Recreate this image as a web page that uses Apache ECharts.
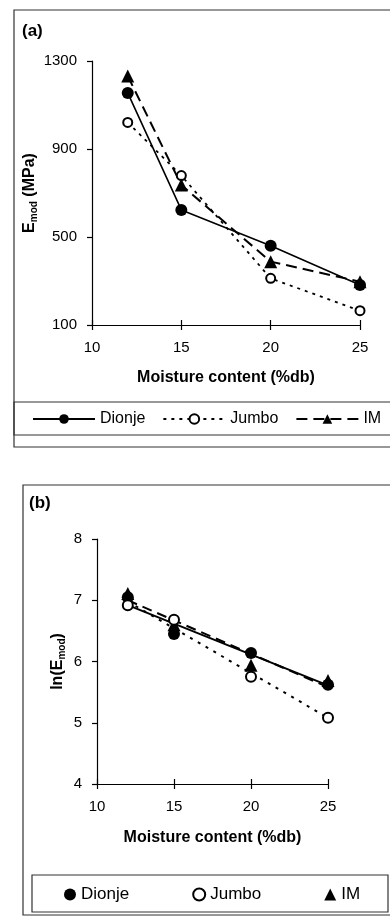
<!DOCTYPE html>
<html lang="en">
<head>
  <meta charset="UTF-8" />
  <title>Emod vs moisture content</title>
  <script src="https://cdn.jsdelivr.net/npm/echarts@6/dist/echarts.min.js"></script>
  <style>
    body,
    html {
      margin: 0;
      padding: 0;
      width: 100%;
      height: 100%;
      overflow: hidden;
      background: #fff;
    }

    #chartA {
      position: absolute;
      left: 0;
      top: 0;
      width: 390px;
      height: 458px;
    }

    #chartB {
      position: absolute;
      left: 0;
      top: 458px;
      width: 390px;
      height: 459px;
    }
  </style>
</head>

<body>
  <div id="chartA"></div>
  <div id="chartB"></div>
  <script>
    // moisture content (%db)
    var moisture = [12, 15, 20, 25];
    // panel (a): E_mod (MPa)
    var dionje = [1155, 623, 460, 282];
    var jumbo = [1021, 779, 312, 165];
    var im = [1232, 736, 388, 297];
    // panel (b): ln(E_mod)
    var lnDionje = [7.05, 6.45, 6.14, 5.62];
    var lnJumbo = [6.92, 6.68, 5.75, 5.08];
    var lnIm = [7.11, 6.60, 5.94, 5.69];
    // fitted lines in (b), end points
    var fitX = [12, 25];
    var fitDionje = [6.92, 5.61];
    var fitJumbo = [6.98, 5.08];
    var fitIm = [7.00, 5.58];
    var names = ['Dionje', 'Jumbo', 'IM'];
    var yTicksA = [100, 500, 900, 1300];

    var FONT = '"Liberation Sans", Arial, sans-serif';
    var black = '#000';

    function pairs(xs, ys) {
      return xs.map(function (x, i) {
        return [x, ys[i]];
      });
    }

    function plain(v) {
      return String(v);
    }

    function xAxes(gap) {
      return [{
        type: 'value',
        min: 10,
        max: 25,
        interval: 5,
        name: 'Moisture content (%db)',
        nameLocation: 'middle',
        nameGap: gap,
        nameTextStyle: { fontSize: 16, fontWeight: 'bold', color: black },
        axisLine: { lineStyle: { color: black, width: 1.2 } },
        axisTick: { show: true, length: 5, lineStyle: { color: black, width: 1.2 } },
        axisLabel: { fontSize: 15, color: black, margin: 15 },
        splitLine: { show: false }
      }, {
        // second axis only to get ticks that cross the line
        type: 'value',
        position: 'bottom',
        min: 10,
        max: 25,
        interval: 5,
        axisLine: { show: false },
        axisTick: { show: true, inside: true, length: 5, lineStyle: { color: black, width: 1.2 } },
        axisLabel: { show: false },
        splitLine: { show: false }
      }];
    }

    var chartA = echarts.init(document.getElementById('chartA'));
    chartA.setOption({
      animation: false,
      textStyle: { fontFamily: FONT },
      graphic: [{
        type: 'rect',
        shape: { x: 14, y: 10, width: 400, height: 437 },
        style: { fill: 'none', stroke: '#333', lineWidth: 1.2 }
      }, {
        type: 'rect',
        shape: { x: 14, y: 402, width: 400, height: 33 },
        style: { fill: 'none', stroke: '#333', lineWidth: 1.2 }
      }, {
        type: 'text',
        left: 22,
        top: 23,
        style: { text: '(a)', font: 'bold 17px ' + FONT, fill: black }
      }],
      legend: {
        left: 32,
        top: 411,
        padding: 0,
        width: 370,
        itemWidth: 62,
        itemHeight: 12,
        itemGap: 17,
        textStyle: { fontSize: 16, color: black },
        data: names
      },
      grid: { left: 92, top: 61, width: 268, height: 264 },
      xAxis: xAxes(45),
      yAxis: {
        type: 'value',
        min: 100,
        max: 1300,
        name: '{b|E}{s|mod}{b| (MPa)}',
        nameLocation: 'middle',
        nameGap: 53,
        nameMoveOverlap: false,
        nameRotate: 90,
        nameTextStyle: {
          rich: {
            b: { fontSize: 16, fontWeight: 'bold', color: black },
            s: { fontSize: 10, fontWeight: 'bold', color: black, padding: [9, 0, 0, 0] }
          }
        },
        axisLine: { show: true, lineStyle: { color: black, width: 1.2 } },
        axisTick: { show: true, length: 5, customValues: yTicksA, lineStyle: { color: black, width: 1.2 } },
        axisLabel: { fontSize: 15, color: black, margin: 15, customValues: yTicksA, formatter: plain },
        splitLine: { show: false }
      },
      series: [{
        name: 'Dionje',
        type: 'line',
        data: pairs(moisture, dionje),
        symbol: 'circle',
        symbolSize: 12,
        itemStyle: { color: black },
        lineStyle: { color: black, width: 1.6 },
        z: 4
      }, {
        name: 'Jumbo',
        type: 'line',
        data: pairs(moisture, jumbo),
        symbol: 'emptyCircle',
        symbolSize: 9,
        itemStyle: { color: black, borderWidth: 1.8 },
        lineStyle: { color: black, width: 1.8, type: [3, 5] },
        z: 3
      }, {
        name: 'IM',
        type: 'line',
        data: pairs(moisture, im),
        symbol: 'triangle',
        symbolSize: 13,
        itemStyle: { color: black },
        lineStyle: { color: black, width: 2, type: [11, 6] },
        z: 3
      }]
    });

    var chartB = echarts.init(document.getElementById('chartB'));
    chartB.setOption({
      animation: false,
      textStyle: { fontFamily: FONT },
      graphic: [{
        type: 'rect',
        shape: { x: 23, y: 27, width: 400, height: 430 },
        style: { fill: 'none', stroke: '#333', lineWidth: 1.2 }
      }, {
        type: 'rect',
        shape: { x: 32, y: 417, width: 356, height: 37 },
        style: { fill: 'none', stroke: '#333', lineWidth: 1.2 }
      }, {
        type: 'text',
        left: 29,
        top: 37,
        style: { text: '(b)', font: 'bold 17px ' + FONT, fill: black }
      }],
      legend: {
        left: 64,
        top: 428,
        padding: 0,
        itemWidth: 12,
        itemHeight: 12,
        itemGap: 63,
        textStyle: { fontSize: 17, color: black },
        data: names
      },
      grid: { left: 97, top: 81, width: 231, height: 245 },
      xAxis: xAxes(46),
      yAxis: {
        type: 'value',
        min: 4,
        max: 8,
        interval: 1,
        name: '{b|ln(E}{s|mod}{b|)}',
        nameLocation: 'middle',
        nameGap: 30,
        nameMoveOverlap: false,
        nameRotate: 90,
        nameTextStyle: {
          rich: {
            b: { fontSize: 16, fontWeight: 'bold', color: black },
            s: { fontSize: 10, fontWeight: 'bold', color: black, padding: [9, 0, 0, 0] }
          }
        },
        axisLine: { show: true, lineStyle: { color: black, width: 1.2 } },
        axisTick: { show: true, length: 5, lineStyle: { color: black, width: 1.2 } },
        axisLabel: { fontSize: 15, color: black, margin: 15 },
        splitLine: { show: false }
      },
      series: [{
        name: 'Dionje',
        type: 'scatter',
        data: pairs(moisture, lnDionje),
        symbol: 'circle',
        symbolSize: 12,
        itemStyle: { color: black, opacity: 1 },
        z: 4
      }, {
        name: 'Jumbo',
        type: 'scatter',
        data: pairs(moisture, lnJumbo),
        symbol: 'emptyCircle',
        symbolSize: 10,
        itemStyle: { color: black, borderWidth: 1.8, opacity: 1 },
        z: 5
      }, {
        name: 'IM',
        type: 'scatter',
        data: pairs(moisture, lnIm),
        symbol: 'triangle',
        symbolSize: 13,
        itemStyle: { color: black, opacity: 1 },
        z: 3
      }, {
        name: 'Dionje fit',
        type: 'line',
        data: pairs(fitX, fitDionje),
        symbol: 'none',
        lineStyle: { color: black, width: 2 },
        z: 2
      }, {
        name: 'Jumbo fit',
        type: 'line',
        data: pairs(fitX, fitJumbo),
        symbol: 'none',
        lineStyle: { color: black, width: 2, type: [3, 6] },
        z: 2
      }, {
        name: 'IM fit',
        type: 'line',
        data: pairs(fitX, fitIm),
        symbol: 'none',
        lineStyle: { color: black, width: 2, type: [10, 6] },
        z: 2
      }]
    });
  </script>
</body>

</html>
